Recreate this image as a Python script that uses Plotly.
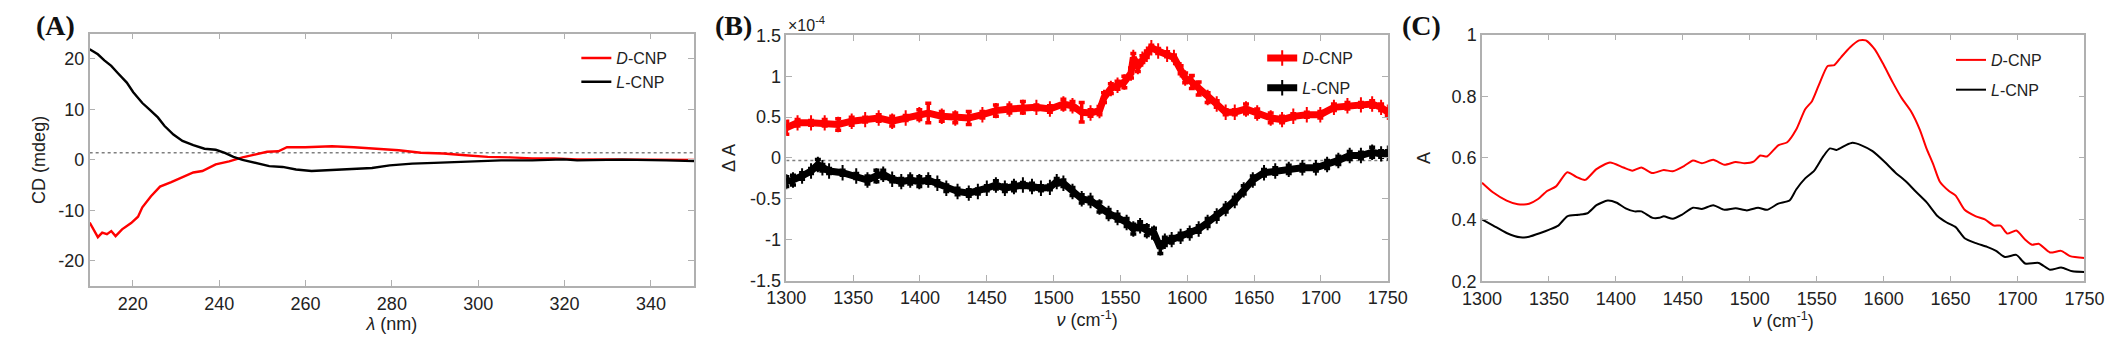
import plotly.graph_objects as go

# ---------------- Panel A: CD spectra ----------------
wl_D = [210, 211.9, 212.9, 214, 215, 216, 217.5, 219.6, 221.2, 222.2, 224.2, 226.3, 228.9, 231.5, 234,
        236.1, 239.2, 242.3, 245.4, 248.5, 251.1, 253.7, 255.7, 259.9, 266.1, 271.2, 276.4, 281.6,
        286.7, 291.9, 297, 302.2, 307.4, 312.5, 317.7, 322.9, 330, 340, 350]
cd_D = [-12.4, -15.3, -14.4, -14.7, -14.1, -15.1, -13.75, -12.5, -11.25, -9.4, -7.2, -5.3, -4.4, -3.4, -2.5,
        -2.2, -0.9, -0.3, 0.5, 1.1, 1.6, 1.7, 2.5, 2.5, 2.7, 2.5, 2.2, 1.9,
        1.4, 1.25, 0.9, 0.6, 0.5, 0.3, 0.3, 0.1, 0.1, 0.0, 0.0]
wl_L = [210, 211.9, 213.4, 215, 216.5, 218.6, 220.1, 222.2, 223.7, 225.8, 227.3, 229.4, 231.5, 234,
        236.6, 239.2, 241.3, 243.3, 245.4, 248.5, 251.6, 254.7, 257.8, 261.4, 266.1, 271.2, 275.4,
        279.5, 284.7, 289.8, 297, 305.3, 312.5, 319.8, 322.9, 333.3, 343.6, 350]
cd_L = [21.9, 20.9, 19.7, 18.6, 17.2, 15.3, 13.4, 11.25, 10.1, 8.4, 6.75, 5.0, 3.75, 2.9,
        2.2, 2.0, 1.4, 0.6, 0.0, -0.6, -1.25, -1.4, -1.9, -2.2, -2.0, -1.9, -1.6,
        -1.1, -0.75, -0.6, -0.3, -0.1, -0.1, 0.1, -0.1, 0.05, -0.1, -0.25]
baseline_A = 1.4

# ---------------- Panel B: VCD (x1e-4) ----------------
nu_BD = [1300, 1308.4, 1318.5, 1328.7, 1338.8, 1348.9, 1359, 1369.1, 1379.2, 1389.3, 1399.5, 1406.2,
         1416.3, 1426.4, 1436.5, 1446.7, 1456.8, 1466.9, 1477, 1487.1, 1497.2, 1507.3, 1514.1, 1521,
         1527.6, 1534.3, 1537.7, 1542.8, 1547.8, 1552.9, 1557.9, 1559.6, 1563, 1566.4, 1569.7, 1573.1,
         1578.2, 1584.9, 1590, 1595, 1598.4, 1603.4, 1608.5, 1615.2, 1622, 1628.7, 1635.5, 1643.9,
         1652.3, 1662.4, 1670.9, 1679.3, 1689.4, 1699.5, 1709.7, 1719.8, 1729.9, 1738.3, 1745, 1750]
dA_D = [0.37, 0.43, 0.43, 0.43, 0.41, 0.45, 0.47, 0.49, 0.45, 0.49, 0.53, 0.55,
        0.51, 0.49, 0.49, 0.53, 0.58, 0.60, 0.62, 0.62, 0.60, 0.66, 0.64, 0.56,
        0.55, 0.58, 0.74, 0.85, 0.89, 0.93, 1.04, 1.23, 1.12, 1.21, 1.27, 1.35,
        1.31, 1.27, 1.23, 1.08, 0.98, 0.93, 0.85, 0.74, 0.66, 0.56, 0.56, 0.60,
        0.55, 0.49, 0.47, 0.51, 0.53, 0.53, 0.62, 0.64, 0.65, 0.66, 0.62, 0.56]
err_D = [0.08, 0.04, 0.03, 0.04, 0.07, 0.05, 0.03, 0.04, 0.06, 0.03, 0.06, 0.12,
         0.06, 0.06, 0.08, 0.04, 0.07, 0.05, 0.07, 0.03, 0.04, 0.06, 0.05, 0.12,
         0.04, 0.05, 0.06, 0.06, 0.05, 0.07, 0.06, 0.05, 0.06, 0.04, 0.04, 0.03,
         0.03, 0.03, 0.03, 0.05, 0.06, 0.08, 0.08, 0.06, 0.04, 0.03, 0.03, 0.06,
         0.05, 0.06, 0.04, 0.03, 0.03, 0.04, 0.04, 0.04, 0.03, 0.04, 0.04, 0.04]
nu_BL = [1300, 1305, 1311.8, 1318.5, 1323.6, 1327, 1332, 1342.1, 1352.3, 1360.7, 1367.4, 1372.5,
         1379.2, 1386, 1392.7, 1399.5, 1406.2, 1413, 1419.7, 1428.1, 1436.5, 1443.3, 1450, 1456.8,
         1463.5, 1470.3, 1477, 1483.8, 1490.5, 1497.2, 1502.3, 1507.3, 1514.1, 1521, 1527.6, 1534.3,
         1541.1, 1547.8, 1554.6, 1559.6, 1564.7, 1569.7, 1575.1, 1579.8, 1583.2, 1588.3, 1595, 1601.8,
         1608.5, 1615.2, 1622, 1628.7, 1635.5, 1642.2, 1649, 1657.4, 1665.8, 1675.9, 1686.1, 1696.2,
         1704.6, 1713, 1721.5, 1729.9, 1738.3, 1745, 1750]
dA_L = [-0.29, -0.27, -0.22, -0.16, -0.08, -0.12, -0.16, -0.18, -0.22, -0.27, -0.22, -0.20,
        -0.26, -0.29, -0.27, -0.29, -0.27, -0.31, -0.37, -0.41, -0.43, -0.41, -0.37, -0.33,
        -0.37, -0.35, -0.33, -0.35, -0.37, -0.36, -0.29, -0.31, -0.41, -0.50, -0.52, -0.60,
        -0.68, -0.73, -0.79, -0.87, -0.83, -0.89, -0.92, -1.10, -1.02, -1.00, -0.96, -0.92,
        -0.87, -0.79, -0.71, -0.62, -0.52, -0.39, -0.27, -0.18, -0.16, -0.14, -0.12, -0.12,
        -0.08, -0.03, 0.03, 0.03, 0.07, 0.05, 0.06]
err_L = [0.06, 0.06, 0.04, 0.03, 0.06, 0.04, 0.03, 0.03, 0.03, 0.05, 0.07, 0.05,
         0.03, 0.04, 0.05, 0.06, 0.04, 0.03, 0.04, 0.04, 0.04, 0.03, 0.03, 0.05,
         0.04, 0.05, 0.03, 0.04, 0.03, 0.03, 0.04, 0.04, 0.05, 0.05, 0.04, 0.06,
         0.05, 0.04, 0.05, 0.06, 0.05, 0.06, 0.06, 0.07, 0.05, 0.04, 0.04, 0.04,
         0.04, 0.05, 0.04, 0.04, 0.04, 0.05, 0.05, 0.04, 0.04, 0.05, 0.04, 0.04,
         0.05, 0.05, 0.05, 0.04, 0.06, 0.04, 0.03]
baseline_B = -0.03

# ---------------- Panel C: IR absorbance ----------------
nu_CD = [1300, 1308.4, 1318.4, 1326.8, 1335.2, 1341.9, 1348.6, 1355.3, 1363.7, 1370.4, 1377.1, 1385.5,
         1395.6, 1405.6, 1412.3, 1419, 1427.4, 1435.8, 1442.5, 1450.9, 1457.6, 1464.3, 1472.7, 1481.1,
         1489.5, 1496.2, 1502.9, 1507.9, 1512.9, 1521.3, 1528, 1534.7, 1541.4, 1546.5, 1551.5, 1558.2,
         1563.2, 1568.3, 1575, 1581.7, 1586.7, 1593.4, 1600.1, 1606.8, 1613.5, 1620.2, 1627, 1632,
         1637, 1642, 1648.8, 1653.8, 1660.5, 1668.9, 1675.6, 1682.3, 1687.3, 1692.4, 1699.1, 1705.8,
         1710.8, 1715.8, 1724.2, 1732.6, 1739.3, 1750]
A_D = [0.520, 0.488, 0.462, 0.450, 0.452, 0.467, 0.493, 0.508, 0.554, 0.539, 0.529, 0.564,
       0.585, 0.569, 0.559, 0.569, 0.551, 0.561, 0.557, 0.574, 0.592, 0.583, 0.594, 0.578,
       0.587, 0.583, 0.588, 0.608, 0.605, 0.641, 0.651, 0.692, 0.758, 0.784, 0.835, 0.898,
       0.901, 0.927, 0.959, 0.981, 0.981, 0.952, 0.901, 0.845, 0.794, 0.753, 0.692, 0.631,
       0.580, 0.523, 0.493, 0.478, 0.432, 0.411, 0.401, 0.381, 0.381, 0.355, 0.365, 0.335,
       0.319, 0.322, 0.294, 0.299, 0.282, 0.276]
nu_CL = [1300, 1308.4, 1318.4, 1328.5, 1335.2, 1343.6, 1350.3, 1357, 1363.7, 1372.1, 1378.8, 1385.5,
         1393.9, 1400.6, 1407.3, 1414, 1419, 1427.4, 1432.5, 1435.8, 1442.5, 1449.2, 1457.6, 1464.3,
         1472.7, 1481.1, 1489.5, 1497.9, 1506.2, 1512.9, 1521.3, 1529.7, 1534.7, 1541.4, 1548.2, 1554.9,
         1559.9, 1564.9, 1571.6, 1576.7, 1583.4, 1591.7, 1600.1, 1608.5, 1616.9, 1623.6, 1632, 1640.4,
         1647.1, 1653.8, 1660.5, 1668.9, 1677.3, 1684, 1690.7, 1699.1, 1705.8, 1715.8, 1724.2, 1732.6,
         1741, 1750]
A_L = [0.401, 0.381, 0.357, 0.343, 0.345, 0.357, 0.368, 0.381, 0.411, 0.416, 0.421, 0.447,
       0.462, 0.455, 0.437, 0.427, 0.427, 0.406, 0.406, 0.411, 0.403, 0.416, 0.439, 0.435,
       0.447, 0.432, 0.437, 0.430, 0.439, 0.432, 0.452, 0.462, 0.498, 0.534, 0.559, 0.605,
       0.631, 0.626, 0.641, 0.649, 0.641, 0.622, 0.590, 0.554, 0.523, 0.493, 0.457, 0.411,
       0.391, 0.376, 0.340, 0.324, 0.312, 0.299, 0.279, 0.286, 0.258, 0.260, 0.238, 0.245,
       0.233, 0.231]

# tick labels
ticks_A_x = [220, 240, 260, 280, 300, 320, 340]
ticks_A_y = [-20, -10, 0, 10, 20]
ticks_B_x = [1300, 1350, 1400, 1450, 1500, 1550, 1600, 1650, 1700, 1750]
ticks_B_y = [-1.5, -1, -0.5, 0, 0.5, 1, 1.5]
ticks_C_y = [0.2, 0.4, 0.6, 0.8, 1]

series_names = ["<i>D</i>-CNP", "<i>L</i>-CNP"]
RED = "#ff0000"
BLACK = "#000000"

W, H = 2128, 348
SANS = "Liberation Sans, Arial, sans-serif"
SERIF = "Liberation Serif, Times New Roman, serif"
AXC = "#b0b0b0"
TXT = "#222222"
TICKSZ = 18
TITSZ = 18
LEGSZ = 16


def lbl(v):
    return "%g" % v  # ascii hyphen minus as in the reference


fig = go.Figure()

# Panel A
fig.add_trace(go.Scatter(x=wl_D, y=cd_D, mode="lines", name=series_names[0],
                         line=dict(color=RED, width=2.4), xaxis="x", yaxis="y", legend="legend"))
fig.add_trace(go.Scatter(x=wl_L, y=cd_L, mode="lines", name=series_names[1],
                         line=dict(color=BLACK, width=2.4), xaxis="x", yaxis="y", legend="legend"))

# Panel B
for nu, v, e, c, n, g in [(nu_BD, dA_D, err_D, RED, series_names[0], "bd"),
                          (nu_BL, dA_L, err_L, BLACK, series_names[1], "bl")]:
    fig.add_trace(go.Scatter(x=nu, y=v, mode="lines+markers", name=n, legendgroup=g,
                             line=dict(color=c, width=7),
                             marker=dict(symbol="line-ns-open", size=11, color=c, line=dict(color=c, width=2)),
                             error_y=dict(type="data", array=e, color=c, thickness=3.5, width=3),
                             xaxis="x2", yaxis="y2", legend="legend2"))

# Panel C
fig.add_trace(go.Scatter(x=nu_CD, y=A_D, mode="lines", name=series_names[0], legendgroup="cd",
                         line=dict(color=RED, width=2, shape="spline", smoothing=0.6),
                         xaxis="x3", yaxis="y3", legend="legend3"))
fig.add_trace(go.Scatter(x=nu_CL, y=A_L, mode="lines", name=series_names[1], legendgroup="cl",
                         line=dict(color=BLACK, width=2, shape="spline", smoothing=0.6),
                         xaxis="x3", yaxis="y3", legend="legend3"))


def px_dom_x(a, b):
    return [a / W, b / W]


def px_dom_y(top, bottom):
    return [1 - bottom / H, 1 - top / H]


common = dict(showline=True, linecolor=AXC, linewidth=1.5, mirror="ticks", ticks="inside",
              ticklen=6, tickcolor=AXC, tickwidth=1.2, showgrid=False, zeroline=False,
              tickfont=dict(family=SANS, size=TICKSZ, color=TXT))
tfont = dict(family=SANS, size=TITSZ, color=TXT)

fig.update_layout(
    width=W, height=H, margin=dict(l=0, r=0, t=0, b=0),
    paper_bgcolor="white", plot_bgcolor="white",
    showlegend=True,
    xaxis=dict(domain=px_dom_x(71, 687), range=[210, 350], anchor="y",
               tickvals=ticks_A_x, ticktext=[lbl(v) for v in ticks_A_x],
               title=dict(text="<i>λ</i> (nm)", font=tfont, standoff=4), **common),
    yaxis=dict(domain=px_dom_y(25, 293), range=[-25, 25], anchor="x",
               tickvals=ticks_A_y, ticktext=[lbl(v) for v in ticks_A_y],
               title=dict(text="CD (mdeg)", font=tfont, standoff=8), **common),
    xaxis2=dict(domain=px_dom_x(781, 1394), range=[1300, 1750], anchor="y2",
                tickvals=ticks_B_x, ticktext=[lbl(v) for v in ticks_B_x],
                title=dict(text="<i>ν</i> (cm<sup>-1</sup>)", font=tfont, standoff=2), **common),
    yaxis2=dict(domain=px_dom_y(27, 287), range=[-1.5, 1.5], anchor="x2",
                tickvals=ticks_B_y, ticktext=[lbl(v) for v in ticks_B_y],
                title=dict(text="Δ A", font=tfont, standoff=10), **common),
    xaxis3=dict(domain=px_dom_x(1490, 2104), range=[1300, 1750], anchor="y3",
                tickvals=ticks_B_x, ticktext=[lbl(v) for v in ticks_B_x],
                title=dict(text="<i>ν</i> (cm<sup>-1</sup>)", font=tfont, standoff=2), **common),
    yaxis3=dict(domain=px_dom_y(26, 288), range=[0.2, 1.0], anchor="x3",
                tickvals=ticks_C_y, ticktext=[lbl(v) for v in ticks_C_y],
                title=dict(text="A", font=tfont, standoff=16), **common),
    legend=dict(x=567 / W, y=1 - 33 / H, xanchor="left", yanchor="top", bgcolor="rgba(0,0,0,0)",
                font=dict(family=SANS, size=LEGSZ, color=TXT), itemwidth=30),
    legend2=dict(x=1266 / W, y=1 - 33 / H, xanchor="left", yanchor="top", bgcolor="rgba(0,0,0,0)",
                 font=dict(family=SANS, size=LEGSZ, color=TXT), itemwidth=30, tracegroupgap=6),
    legend3=dict(x=1968 / W, y=1 - 35 / H, xanchor="left", yanchor="top", bgcolor="rgba(0,0,0,0)",
                 font=dict(family=SANS, size=LEGSZ, color=TXT), itemwidth=30, tracegroupgap=6),
)

# dashed reference lines
fig.add_shape(type="line", xref="x", yref="y", x0=210, x1=350, y0=baseline_A, y1=baseline_A,
              line=dict(color="#7f7f7f", width=1.5, dash="3px,3px"), layer="below")
fig.add_shape(type="line", xref="x2", yref="y2", x0=1300, x1=1750, y0=baseline_B, y1=baseline_B,
              line=dict(color="#7f7f7f", width=1.5, dash="3px,3px"), layer="below")

# panel labels and exponent
for txt, cx in [("(A)", 36), ("(B)", 727), ("(C)", 1428)]:
    fig.add_annotation(text="<b>%s</b>" % txt, x=cx / W, y=1 - 16 / H, xref="paper", yref="paper",
                       xanchor="center", yanchor="middle", showarrow=False,
                       font=dict(family=SERIF, size=28, color="#111111"))
fig.add_annotation(text="×10<sup>-4</sup>", x=781 / W, y=1 - 15 / H, xref="paper", yref="paper",
                   xanchor="left", yanchor="middle", showarrow=False,
                   font=dict(family=SANS, size=16, color=TXT))

fig.write_html("out.html")
